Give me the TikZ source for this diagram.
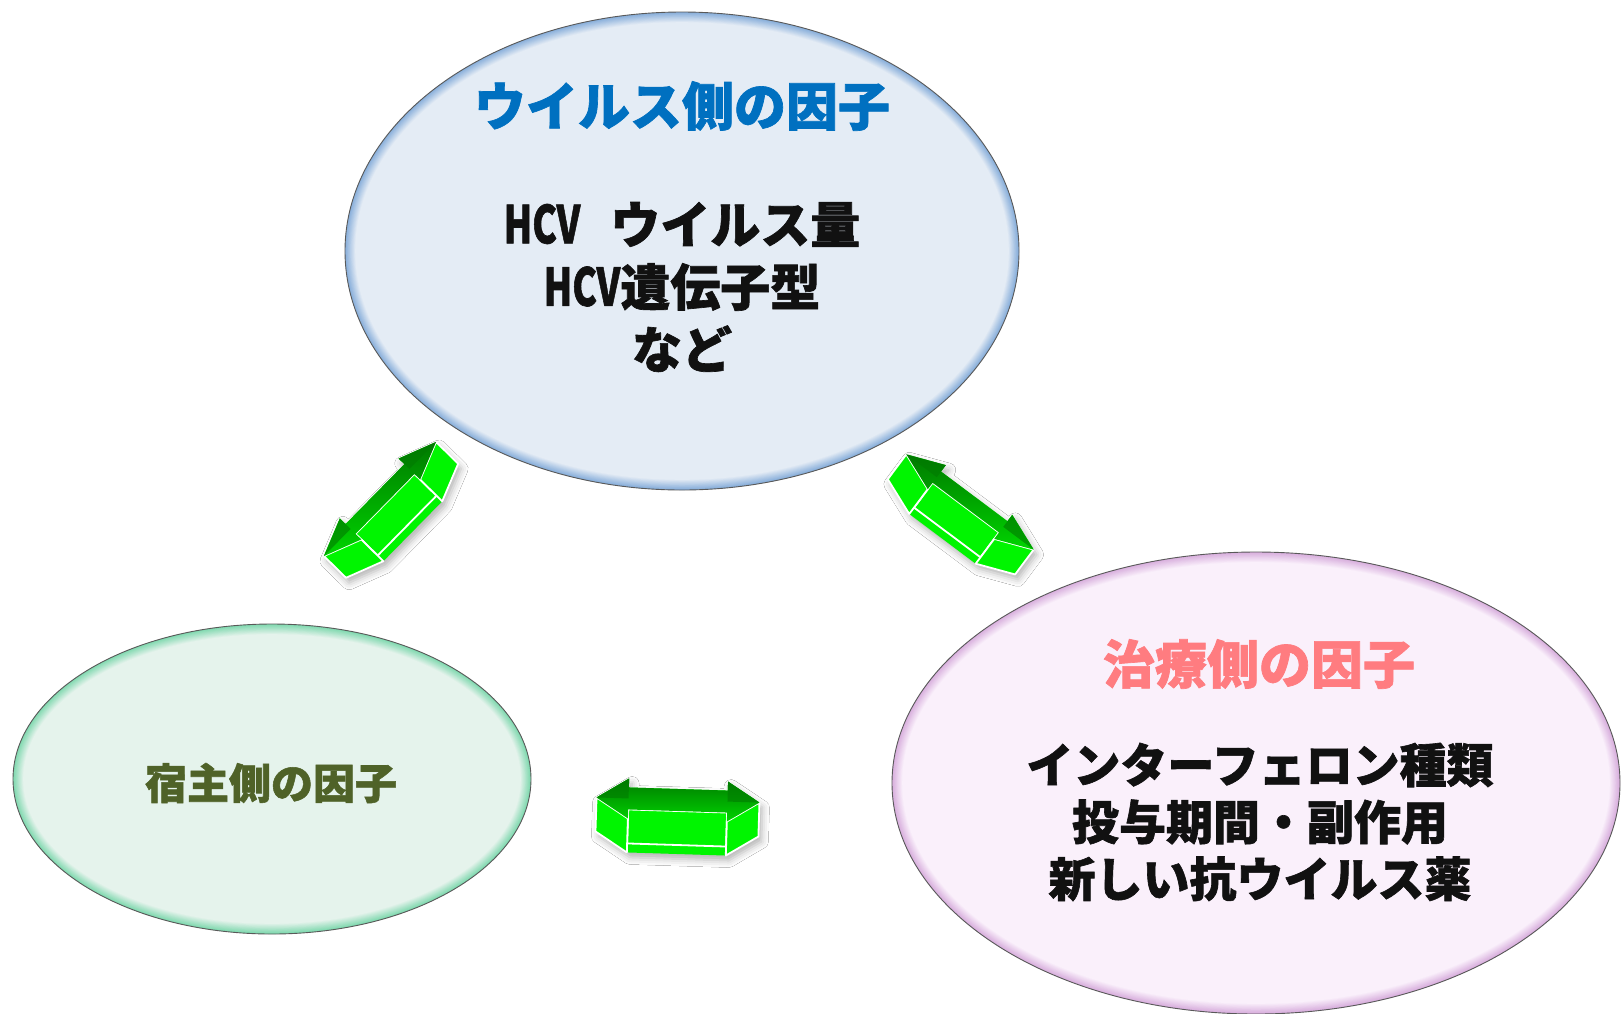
\documentclass[tikz,border=0pt]{standalone}
\usepackage{fontspec}
\usepackage{graphicx}
\usetikzlibrary{shapes.geometric,shadows.blur}
\newfontfamily\jp{Noto Sans CJK JP}[BoldFeatures={FakeBold=1.3}]
\definecolor{ttlblue}{HTML}{0070C0}
\definecolor{ttlpink}{HTML}{FF7C80}
\definecolor{ttlolive}{HTML}{4F6228}
\definecolor{fillblue}{HTML}{E4ECF5}
\definecolor{rimblue}{HTML}{86ADDA}
\definecolor{fillgreen}{HTML}{E5F3EC}
\definecolor{rimgreen}{HTML}{7ED8AE}
\definecolor{fillpink}{HTML}{FAF0FB}
\definecolor{rimpink}{HTML}{D8AEDD}
\definecolor{argreen}{HTML}{00F500}
\definecolor{ardark}{HTML}{007A00}
\definecolor{armid}{HTML}{00D400}
\definecolor{txtblack}{HTML}{111111}

% cx, cy, rx, ry, rim colour, fill colour
\newcommand\softellipse[6]{%
  \fill[#5] (#1,#2) ellipse [x radius=#3, y radius=#4];
  \foreach \i in {1,...,12}{%
    \pgfmathtruncatemacro\pp{100-\i*100/12}%
    \fill[#5!\pp!#6] (#1,#2) ellipse [x radius=#3-\i*0.85, y radius=#4-\i*0.85];
  }%
}

% cx, cy, angle, length, head length, head half width, shaft half width, thickness
\newcommand\dblarrow[8]{%
  \begin{scope}[shift={(#1,#2)}, x=1pt, y=1pt, rotate=#3]
    \pgfmathsetmacro\arH{#4/2}%
    \pgfmathsetmacro\arB{#4/2-#5}%
    \fill[argreen, blur shadow={shadow xshift=3pt, shadow yshift=-5pt, shadow blur radius=7pt, shadow opacity=30}]
      (-\arH,0) -- (-\arB,#6) -- (-\arB,#7) -- (\arB,#7) -- (\arB,#6) -- (\arH,0)
      -- (\arH,-#8) -- (\arB,-#6-#8) -- (-\arB,-#6-#8) -- (-\arH,-#8) -- cycle;
    \filldraw[frontface] (-\arB,-#7) -- (\arB,-#7) -- (\arB,-#7-#8) -- (-\arB,-#7-#8) -- cycle;
    \filldraw[frontface] (-\arH,0) -- (-\arB,-#6) -- (-\arB,-#6-#8) -- (-\arH,-#8) -- cycle;
    \filldraw[frontface] (\arH,0) -- (\arB,-#6) -- (\arB,-#6-#8) -- (\arH,-#8) -- cycle;
    \shade[topface]
      (-\arH,0) -- (-\arB,#6) -- (-\arB,#7) -- (\arB,#7) -- (\arB,#6) -- (\arH,0)
      -- (\arB,-#6) -- (\arB,-#7) -- (-\arB,-#7) -- (-\arB,-#6) -- cycle;
    \fill[ardark, opacity=0.6] (-\arH,0) -- (-\arB,#6) -- (-\arB,0) -- cycle;
    \fill[ardark, opacity=0.6] (\arH,0) -- (\arB,#6) -- (\arB,0) -- cycle;
  \end{scope}%
}

\tikzset{
  frontface/.style={fill=argreen, draw=white, line width=1.8pt, line join=round},
  topface/.style={top color=ardark, bottom color=armid},
  bubble/.style={ellipse, inner sep=0pt, draw=black!65, line width=0.9pt},
  ttl/.style={font=\jp\bfseries\fontsize{52}{62}\selectfont, inner sep=0pt},
  body/.style={font=\jp\bfseries\fontsize{50}{62.5}\selectfont, align=center, inner sep=0pt, text=txtblack},
  bodysm/.style={font=\jp\bfseries\fontsize{47}{57}\selectfont, align=center, inner sep=0pt, text=txtblack},
}

\begin{document}
\begin{tikzpicture}[x=1pt,y=-1pt]
  \useasboundingbox (0,0) rectangle (1621,1013);
  \fill[white] (0,0) rectangle (1621,1013);

  % top ellipse: virus
  \softellipse{682}{251}{337}{239}{rimblue}{fillblue}
  \node[bubble, minimum width=674pt, minimum height=478pt] (virus) at (682,251) {};
  \node[ttl, text=ttlblue] (virusT) at (682,106) {ウイルス側の因子};
  \node[body] (virusB) at (682,287) {\scalebox{0.74}[1.04]{HCV}\hspace{0.6em}ウイルス量\\\scalebox{0.74}[1.04]{HCV}遺伝子型\\など};

  % left ellipse: host
  \softellipse{272}{779}{259}{155}{rimgreen}{fillgreen}
  \node[bubble, minimum width=518pt, minimum height=310pt] (host) at (272,779) {};
  \node[font=\jp\bfseries\fontsize{42}{50}\selectfont, inner sep=0pt, text=ttlolive] (hostT) at (271,783) {宿主側の因子};

  % right ellipse: treatment
  \softellipse{1256}{783}{364}{231}{rimpink}{fillpink}
  \node[bubble, minimum width=728pt, minimum height=462pt] (treat) at (1256,783) {};
  \node[ttl, text=ttlpink] (treatT) at (1259,664) {治療側の因子};
  \node[bodysm] (treatB) at (1260,822) {インターフェロン種類\\投与期間・副作用\\新しい抗ウイルス薬};

  % 3D double arrows
  \coordinate (arA) at (380,499);
  \coordinate (arB) at (970,502);
  \coordinate (arC) at (678,800);
  \dblarrow{380}{499}{45.5}{160}{38}{15}{7}{31}
  \dblarrow{970}{502}{-36.8}{159}{38}{15}{7}{31}
  \dblarrow{678}{800}{-1.8}{163}{32}{20}{11}{34}
\end{tikzpicture}
\end{document}
